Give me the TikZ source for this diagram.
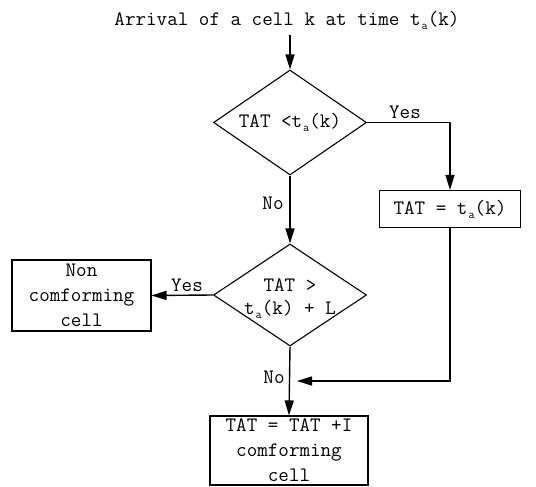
\documentclass[tikz,border=0pt]{standalone}
\usetikzlibrary{shapes.geometric,arrows.meta}
\newcommand{\ta}{t\kern1pt\raisebox{-0.45ex}{\fontsize{12}{12}\selectfont a}}
\begin{document}
\begin{tikzpicture}[x=1pt,y=-1pt,
  every node/.style={font=\ttfamily\fontsize{20.5}{25}\selectfont, inner sep=0pt},
  dec/.style={draw, diamond, line width=1.1pt},
  box/.style={draw, rectangle, line width=1.1pt, align=center},
  arr/.style={line width=1.4pt, -{Triangle[length=15pt,width=9pt]}}]
\useasboundingbox (0,0) rectangle (536,487);
\node (t) at (287,20) {Arrival of a cell k at time \ta(k)};
\coordinate (a0) at (290,35);
\node[dec, minimum width=153pt, minimum height=105pt] (d1) at (290,122.5) {};
\node (d1t) at (290,122) {TAT <\ta(k)};
\node[box, minimum width=141pt, minimum height=37pt] (b1) at (450,209) {TAT = \ta(k)};
\node[dec, minimum width=153pt, minimum height=102pt] (d2) at (290,295) {};
\node (d2t) at (290,285) {TAT >};
\node (d2b) at (290,309) {\ta(k) + L};
\node[box, minimum width=139pt, minimum height=71pt] (nc) at (81.5,295.5) {Non\\comforming\\cell};
\node[box, minimum width=158pt, minimum height=69pt] (bt) at (289,450.5) {TAT = TAT +I\\comforming\\cell};
\coordinate (j) at (297,381);
\draw[arr] (a0) -- (d1.north);
\draw[arr] (d1.east) -| (b1.north);
\node (y1) at (405,112) {Yes};
\draw[arr] (d1.south) -- (d2.north);
\node (n1) at (273,203) {No};
\draw[arr] (d2.west) -- (nc.east);
\node (y2) at (187,285) {Yes};
\draw[arr] (b1.south) |- (j);
\draw[arr] (d2.south) -- (bt.north);
\node (n2) at (274,377) {No};
\end{tikzpicture}
\end{document}
